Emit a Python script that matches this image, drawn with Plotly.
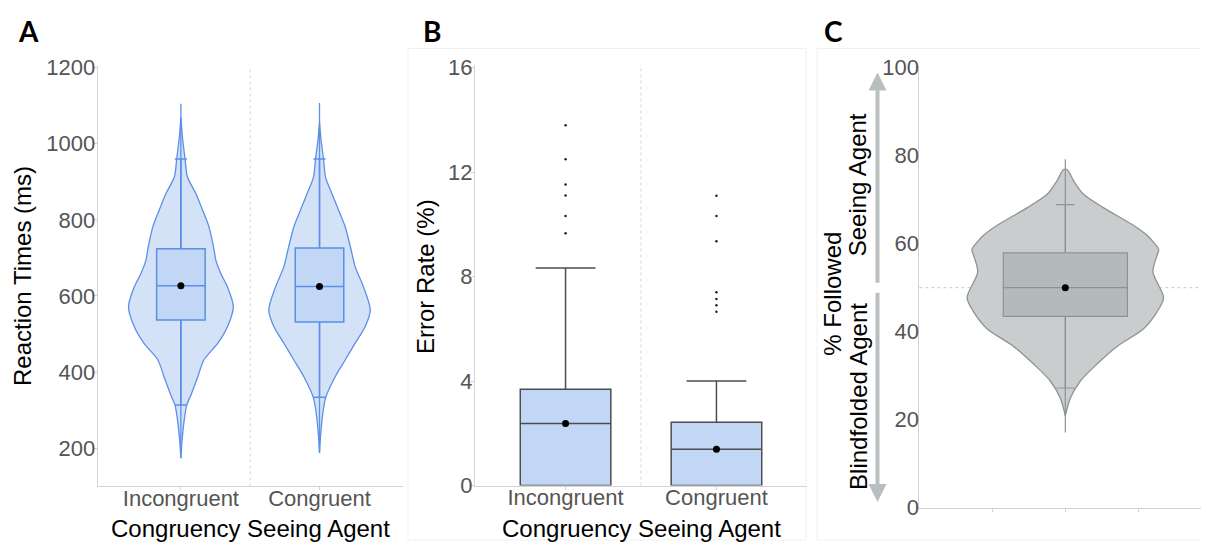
import plotly.graph_objects as go

# page body has an 8px margin: draw the figure 8px smaller and offset all target pixel positions
OFF = 8
W, H = 1209 - OFF, 543 - OFF

# ---------------- data ----------------
categories = ["Incongruent", "Congruent"]

# Panel A: reaction times (ms)
rt_q1 = [537, 532]
rt_median = [627, 625]
rt_q3 = [724, 726]
rt_mean = [627, 625]
rt_whisk_lo = [314, 334]
rt_whisk_hi = [960, 960]
rt_min = [174, 188]
rt_max = [1105, 1107]
# violin profile (value, half-width in category units)
rt_prof_inc_v = [1070, 1018, 960, 913, 869, 826, 782, 724, 694, 659, 624, 572, 519, 476, 432, 388, 344, 314, 274, 222, 174]
rt_prof_inc_w = [0.0, 0.011, 0.030, 0.047, 0.108, 0.156, 0.202, 0.238, 0.252, 0.288, 0.336, 0.378, 0.336, 0.267, 0.166, 0.122, 0.077, 0.043, 0.024, 0.009, 0.0]
rt_prof_con_v = [1057, 1010, 960, 913, 869, 826, 782, 724, 677, 624, 563, 519, 476, 432, 388, 334, 292, 239, 188]
rt_prof_con_w = [0.0, 0.011, 0.029, 0.043, 0.089, 0.137, 0.185, 0.226, 0.257, 0.317, 0.366, 0.329, 0.257, 0.185, 0.113, 0.045, 0.024, 0.009, 0.0]

# Panel B: error rate (%)
er_q1 = [0.0, 0.0]
er_median = [2.37, 1.39]
er_q3 = [3.68, 2.42]
er_mean = [2.37, 1.39]
er_whisk_lo = [0.0, 0.0]
er_whisk_hi = [8.33, 4.0]
er_out_inc = [13.79, 12.49, 11.52, 11.10, 10.32, 9.66]
er_out_con = [11.09, 10.32, 9.35, 7.40, 7.14, 6.90, 6.65]

# Panel C: % followed
fo_q1 = [43.5]
fo_median = [50.0]
fo_q3 = [57.9]
fo_mean = [50.0]
fo_whisk_lo = [27.2]
fo_whisk_hi = [68.9]
fo_min = [17.1]
fo_max = [79.2]
fo_prof_v = [76.8, 74.4, 71.3, 68.2, 64.2, 61.9, 58.7, 57.9, 53.6, 47.7, 44.5, 40.6, 36.7, 32.7, 28.8, 24.9, 20.9]
fo_prof_w = [0.014, 0.055, 0.123, 0.26, 0.466, 0.56, 0.639, 0.634, 0.60, 0.673, 0.628, 0.534, 0.356, 0.219, 0.103, 0.034, 0.0]

yticks_a = [200, 400, 600, 800, 1000, 1200]
yticks_b = [0, 4, 8, 12, 16]
yticks_c = [0, 20, 40, 60, 80, 100]

# ---------------- styling ----------------
FONT = "Liberation Sans"
BLUE = "#5b8fe8"
VIOLIN_BLUE = "#d4e2f8"
BOX_BLUE = "#c2d6f5"
GRAY_LINE = "#8d9393"
VIOLIN_GRAY = "#cacdcd"
BOX_GRAY = "#b4b9b9"
AXIS_COL = "#d3d3d3"
TICKFONT = dict(family=FONT, size=22, color="#555555")


def fx(px):
    return (px - OFF) / W


def fy(py):
    return 1 - (py - OFF) / H


fig = go.Figure()


def violin(xc, vals, widths, xa, ya, fill, line):
    xs = [xc + w for w in widths] + [xc - w for w in reversed(widths)]
    ys = list(vals) + list(reversed(vals))
    fig.add_trace(go.Scatter(x=xs + [xs[0]], y=ys + [ys[0]], mode="lines", fill="toself",
                             fillcolor=fill, line=dict(color=line, width=1.3, shape="spline", smoothing=0.8),
                             xaxis=xa, yaxis=ya, hoverinfo="skip", showlegend=False))


# ---- Panel A ----  (violins on x/y, boxes on overlaying x4/y4)
violin(0, rt_prof_inc_v, rt_prof_inc_w, "x", "y", VIOLIN_BLUE, BLUE)
violin(1, rt_prof_con_v, rt_prof_con_w, "x", "y", VIOLIN_BLUE, BLUE)
for i in range(2):
    fig.add_trace(go.Scatter(x=[i, i], y=[rt_min[i], rt_max[i]], mode="lines",
                             line=dict(color=BLUE, width=1.3), xaxis="x", yaxis="y",
                             hoverinfo="skip", showlegend=False))
fig.add_trace(go.Box(x=[0, 1], q1=rt_q1, median=rt_median, q3=rt_q3,
                     lowerfence=rt_whisk_lo, upperfence=rt_whisk_hi, width=0.35,
                     whiskerwidth=0.25, fillcolor=BOX_BLUE, line=dict(color=BLUE, width=1.5),
                     boxpoints=False, xaxis="x4", yaxis="y4", showlegend=False))
fig.add_trace(go.Scatter(x=[0, 1], y=rt_mean, mode="markers", marker=dict(color="black", size=7),
                         xaxis="x4", yaxis="y4", showlegend=False))

# ---- Panel B ----
fig.add_trace(go.Box(x=[0, 1], q1=er_q1, median=er_median, q3=er_q3,
                     lowerfence=er_whisk_lo, upperfence=er_whisk_hi, width=0.6,
                     whiskerwidth=0.66, fillcolor=BOX_BLUE, line=dict(color="#4d4d4d", width=1.5),
                     boxpoints=False, xaxis="x2", yaxis="y2", showlegend=False))
fig.add_trace(go.Scatter(x=[0] * len(er_out_inc) + [1] * len(er_out_con), y=er_out_inc + er_out_con,
                         mode="markers", marker=dict(color="#222222", size=2.5),
                         xaxis="x2", yaxis="y2", showlegend=False))
fig.add_trace(go.Scatter(x=[0, 1], y=er_mean, mode="markers", marker=dict(color="black", size=7),
                         xaxis="x2", yaxis="y2", showlegend=False))

# ---- Panel C ----  (violin on x3/y3, box on overlaying x5/y5)
violin(0, fo_prof_v, fo_prof_w, "x3", "y3", VIOLIN_GRAY, GRAY_LINE)
fig.add_trace(go.Scatter(x=[0, 0], y=[fo_min[0], fo_max[0]], mode="lines",
                         line=dict(color=GRAY_LINE, width=1.2), xaxis="x3", yaxis="y3",
                         hoverinfo="skip", showlegend=False))
fig.add_trace(go.Box(x=[0], q1=fo_q1, median=fo_median, q3=fo_q3,
                     lowerfence=fo_whisk_lo, upperfence=fo_whisk_hi, width=0.85,
                     whiskerwidth=0.145, fillcolor=BOX_GRAY, line=dict(color=GRAY_LINE, width=1.2),
                     boxpoints=False, xaxis="x5", yaxis="y5", showlegend=False))
fig.add_trace(go.Scatter(x=[0], y=fo_mean, mode="markers", marker=dict(color="black", size=7),
                         xaxis="x5", yaxis="y5", showlegend=False))

axis_common = dict(showgrid=False, zeroline=False, showline=True, linecolor=AXIS_COL, linewidth=1,
                   ticks="outside", ticklen=3, tickcolor=AXIS_COL, tickfont=TICKFONT, automargin=False)
hidden = dict(visible=False, showgrid=False, zeroline=False, automargin=False)

XR_A = [-0.6, 1.6]
YR_A = [100, 1205]
XR_C = [-1, 0.984]
YR_C = [0, 100.5]

fig.update_layout(
    width=W, height=H, margin=dict(l=0, r=0, t=0, b=0, autoexpand=False),
    paper_bgcolor="white", plot_bgcolor="rgba(0,0,0,0)", showlegend=False,
    font=dict(family=FONT, color="black"),
    xaxis=dict(domain=[fx(97.7), fx(402.7)], range=XR_A, tickvals=[0, 1], ticktext=categories,
               anchor="y", ticklabelstandoff=-11, **axis_common),
    yaxis=dict(domain=[fy(486.4), fy(65.6)], range=YR_A, tickvals=yticks_a, anchor="x",
               ticklabelstandoff=-6, **axis_common),
    xaxis4=dict(overlaying="x", range=XR_A, **hidden),
    yaxis4=dict(overlaying="y", range=YR_A, **hidden),
    xaxis2=dict(domain=[fx(475), fx(807)], range=[-0.6, 1.6], tickvals=[0, 1], ticktext=categories,
                anchor="y2", ticklabelstandoff=-11, **axis_common),
    yaxis2=dict(domain=[fy(485.5), fy(64.9)], range=[0, 16.1], tickvals=yticks_b, anchor="x2",
                ticklabelstandoff=-6, **axis_common),
    xaxis3=dict(domain=[fx(919.3), fx(1209)], range=XR_C, tickvals=[-0.5, 0, 0.5], showticklabels=False,
                anchor="y3", **axis_common),
    yaxis3=dict(domain=[fy(507.7), fy(65.5)], range=YR_C, tickvals=yticks_c, anchor="x3",
                ticklabelstandoff=-8, **axis_common),
    xaxis5=dict(overlaying="x3", range=XR_C, **hidden),
    yaxis5=dict(overlaying="y3", range=YR_C, **hidden),
)

# separators / reference lines
fig.add_shape(type="line", xref="x", yref="y domain", x0=0.5, x1=0.5, y0=0, y1=1,
              line=dict(color="#d6d6d6", width=1, dash="dot"), layer="below")
fig.add_shape(type="line", xref="x2", yref="y2 domain", x0=0.5, x1=0.5, y0=0, y1=1,
              line=dict(color="#d6d6d6", width=1, dash="dot"), layer="below")
fig.add_shape(type="line", xref="x3 domain", yref="y3", x0=0, x1=1, y0=50, y1=50,
              line=dict(color="#c8c8c8", width=1, dash="dot"), layer="below")

# faint panel frames
fig.add_shape(type="rect", xref="paper", yref="paper", x0=fx(408), x1=fx(806), y0=fy(540), y1=fy(48.5),
              line=dict(color="#f1f1f1", width=1), layer="below")
fig.add_shape(type="rect", xref="paper", yref="paper", x0=fx(817), x1=fx(1215), y0=fy(540), y1=fy(48.5),
              line=dict(color="#f1f1f1", width=1), layer="below")

ann = []


def text(t, px, py, font, angle=0):
    ann.append(dict(text=t, x=fx(px), y=fy(py), xref="paper", yref="paper", xanchor="center",
                    yanchor="middle", showarrow=False, textangle=angle, font=font))


# panel letters
for letter, px in [("A", 28), ("B", 432), ("C", 833)]:
    text("<b>%s</b>" % letter, px, 31, dict(family="Lato", size=28, color="black"))
# axis titles
TITLEFONT = dict(family=FONT, size=24, color="black")
text("Congruency Seeing Agent", 250, 528, TITLEFONT)
text("Congruency Seeing Agent", 641, 528, TITLEFONT)
text("Reaction Times (ms)", 22, 276, TITLEFONT, -90)
text("Error Rate (%)", 425, 277, TITLEFONT, -90)
text("% Followed", 831.7, 294, TITLEFONT, -90)
text("Seeing Agent", 858.3, 185, TITLEFONT, -90)
text("Blindfolded Agent", 858.3, 396.6, TITLEFONT, -90)

# arrows in panel C (y in data units of y3)
ann.append(dict(x=fx(877.5), y=98.9, xref="paper", yref="y3", ax=0, ay=50.8, axref="pixel", ayref="y3",
                showarrow=True, arrowhead=2, arrowsize=0.9, arrowwidth=4, arrowcolor="#b9bfbf", text=""))
ann.append(dict(x=fx(877.5), y=1.3, xref="paper", yref="y3", ax=0, ay=49.2, axref="pixel", ayref="y3",
                showarrow=True, arrowhead=2, arrowsize=0.9, arrowwidth=4, arrowcolor="#b9bfbf", text=""))
fig.update_layout(annotations=ann)

fig.write_html("out.html")
